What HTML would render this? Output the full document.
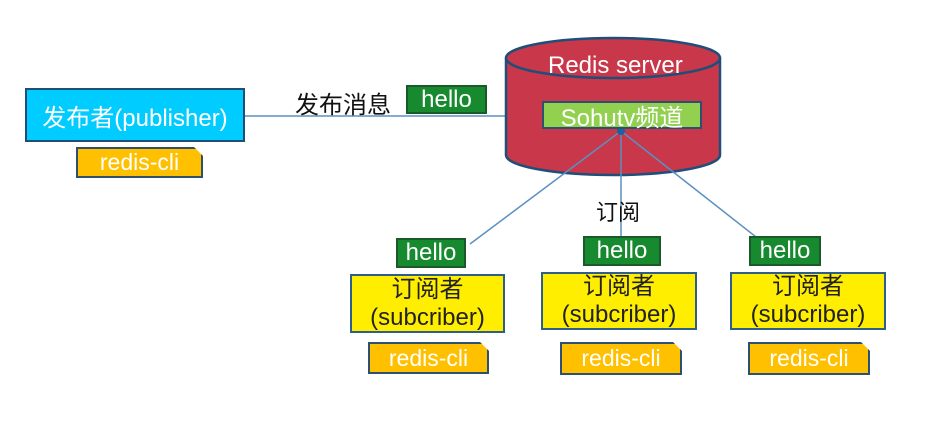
<!DOCTYPE html>
<html><head><meta charset="utf-8"><style>
body{margin:0;width:929px;height:431px;background:#fff;position:relative;overflow:hidden;font-family:"Liberation Sans","Noto Sans CJK SC",sans-serif}
.b{position:absolute;box-sizing:border-box;display:flex;align-items:center;justify-content:center;text-align:center}
.g{background:#178a30;border:2px solid #1a5a2a;color:#fff;font-size:24px}
.y{background:#ffee00;border:2px solid #2d5f8a;color:#222;font-size:24px;line-height:28px;flex-direction:column}
.c{background:#ffc000;border:2px solid #2d4f70;color:#fff;font-size:23px;clip-path:polygon(0 0,calc(100% - 9px) 0,100% 9px,100% 100%,0 100%)}
</style></head><body>
<svg width="929" height="431" style="position:absolute;left:0;top:0">
<line x1="245" y1="116" x2="545" y2="116" stroke="#5b8fc0" stroke-width="1.5"/>
<path d="M506 58 L506 155 A107 20 0 0 0 720 155 L720 58" fill="#c8384a" stroke="#1f4e79" stroke-width="2.5"/>
<ellipse cx="613" cy="58" rx="107" ry="20" fill="#c8384a" stroke="#1f4e79" stroke-width="2.5"/>
<line x1="621" y1="131" x2="470" y2="244" stroke="#5b8fc0" stroke-width="1.5"/>
<line x1="621" y1="131" x2="621" y2="238" stroke="#5b8fc0" stroke-width="1.5"/>
<line x1="621" y1="131" x2="765" y2="244" stroke="#5b8fc0" stroke-width="1.5"/>
<circle cx="621" cy="131" r="4" fill="#1f5fa0"/>
</svg>
<div style="position:absolute;left:548px;top:52px;color:#fff;font-size:24px">Redis server</div>
<div class="b" style="left:542px;top:101px;width:160px;height:28px;background:#92d050;border:2px solid #2d4f70;color:#fff;font-size:24px">Sohutv频道</div>
<div class="b" style="left:25px;top:88px;width:220px;height:54px;background:#00ccff;border:2px solid #1f4e79;color:#fff;font-size:24px">发布者(publisher)</div>
<div class="b c" style="left:76px;top:147px;width:127px;height:31px">redis-cli</div>
<div style="position:absolute;left:295px;top:85px;font-size:24px;color:#111">发布消息</div>
<div class="b g" style="left:406px;top:85px;width:81px;height:29px">hello</div>
<div style="position:absolute;left:596px;top:195px;font-size:22px;color:#111">订阅</div>
<div class="b g" style="left:396px;top:238px;width:70px;height:30px">hello</div>
<div class="b g" style="left:583px;top:236px;width:78px;height:30px">hello</div>
<div class="b g" style="left:749px;top:236px;width:72px;height:30px">hello</div>
<div class="b y" style="left:350px;top:274px;width:155px;height:59px"><div>订阅者</div><div>(subcriber)</div></div>
<div class="b y" style="left:541px;top:272px;width:156px;height:58px"><div>订阅者</div><div>(subcriber)</div></div>
<div class="b y" style="left:730px;top:272px;width:156px;height:58px"><div>订阅者</div><div>(subcriber)</div></div>
<div class="b c" style="left:368px;top:342px;width:121px;height:32px">redis-cli</div>
<div class="b c" style="left:560px;top:342px;width:122px;height:33px">redis-cli</div>
<div class="b c" style="left:748px;top:342px;width:122px;height:33px">redis-cli</div>
</body></html>
